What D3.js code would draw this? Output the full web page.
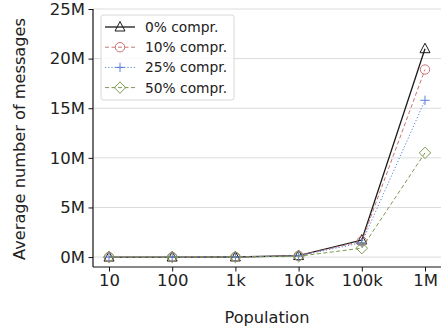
<!DOCTYPE html>
<html>
<head>
<meta charset="utf-8">
<script src="https://cdn.jsdelivr.net/npm/d3@7"></script>
<style>
  body { margin: 0; background: #fff; }
  text { font-family: "DejaVu Sans", sans-serif; fill: #222; }
</style>
</head>
<body>
<div id="chart"></div>
<script>
var svgWidth = 447;
var svgHeight = 334;

var margin = { top: 9, right: 6, bottom: 67, left: 93 };
var width = svgWidth - margin.left - margin.right;
var height = svgHeight - margin.top - margin.bottom;

// data (millions of messages)
var populations = ["10", "100", "1k", "10k", "100k", "1M"];
var yTicks = [0, 5, 10, 15, 20, 25];
var seriesNames = ["0% compr.", "10% compr.", "25% compr.", "50% compr."];
var compr0 = [0.0, 0.0, 0.01, 0.15, 1.72, 21.0];
var compr10 = [0.0, 0.0, 0.01, 0.13, 1.6, 18.9];
var compr25 = [0.0, 0.0, 0.01, 0.12, 1.45, 15.8];
var compr50 = [0.0, 0.0, 0.01, 0.08, 0.9, 10.5];

var series = [
  { name: seriesNames[0], values: compr0, color: "#1a1a1a", dash: null, width: 1.3, marker: "triangle" },
  { name: seriesNames[1], values: compr10, color: "#c87474", dash: "4,2.5", width: 1, marker: "circle" },
  { name: seriesNames[2], values: compr25, color: "#5a7fd8", dash: "1.2,2", width: 1, marker: "plus" },
  { name: seriesNames[3], values: compr50, color: "#7c9a50", dash: "4,2.5", width: 1, marker: "diamond" }
];

var svg = d3.select("#chart").append("svg")
  .attr("width", svgWidth)
  .attr("height", svgHeight);

var chartGroup = svg.append("g")
  .attr("transform", `translate(${margin.left}, ${margin.top})`);

var x = d3.scalePoint()
  .domain(populations)
  .range([16, 332]);

var y = d3.scaleLinear()
  .domain([-1.0, 25])
  .range([height, 0]);

// grid lines
chartGroup.append("g")
  .selectAll("line")
  .data(yTicks)
  .enter().append("line")
  .attr("x1", 0)
  .attr("x2", width)
  .attr("y1", d => y(d))
  .attr("y2", d => y(d))
  .attr("stroke", "#dcdcdc")
  .attr("stroke-width", 1);

// axes
var leftAxis = d3.axisLeft(y).tickValues(yTicks).tickFormat(d => d + "M").tickSizeOuter(0).tickSize(4.5).tickPadding(3.5);
var bottomAxis = d3.axisBottom(x).tickSizeOuter(0).tickSize(4.5).tickPadding(3);

var yAxisG = chartGroup.append("g").call(leftAxis);
var xAxisG = chartGroup.append("g")
  .attr("transform", `translate(0, ${height})`)
  .call(bottomAxis);

[yAxisG, xAxisG].forEach(function(g) {
  g.select(".domain").attr("stroke", "#111").attr("stroke-width", 1.2);
  g.selectAll(".tick line").attr("stroke", "#111");
  g.selectAll(".tick text").attr("font-size", 16.5).attr("fill", "#222")
    .style("font-family", "DejaVu Sans, sans-serif");
});
// extend y domain line up to top tick
yAxisG.select(".domain").attr("d", `M0,${height}V${y(25)}`);
xAxisG.select(".domain").attr("d", `M0,0H${width}`);

function drawMarker(g, type, color) {
  if (type === "triangle") {
    g.append("path").attr("d", "M0,-5.5L5,4L-5,4Z")
      .attr("fill", "none").attr("stroke", color).attr("stroke-width", 1);
  } else if (type === "circle") {
    g.append("circle").attr("r", 4.7).attr("fill", "none").attr("stroke", color).attr("stroke-width", 1);
  } else if (type === "plus") {
    g.append("path").attr("d", "M-4.7,0H4.7M0,-4.7V4.7").attr("stroke", color).attr("stroke-width", 1);
  } else {
    g.append("path").attr("d", "M0,-5.7L5.7,0L0,5.7L-5.7,0Z")
      .attr("fill", "none").attr("stroke", color).attr("stroke-width", 1);
  }
}

var line = d3.line()
  .x((d, i) => x(populations[i]))
  .y(d => y(d));

series.forEach(function(s) {
  chartGroup.append("path")
    .datum(s.values)
    .attr("d", line)
    .attr("fill", "none")
    .attr("stroke", s.color)
    .attr("stroke-width", s.width)
    .attr("stroke-dasharray", s.dash);

  s.values.forEach(function(v, i) {
    var m = chartGroup.append("g")
      .attr("transform", `translate(${x(populations[i])}, ${y(v)})`);
    drawMarker(m, s.marker, s.color);
  });
});

// legend
var legend = chartGroup.append("g").attr("transform", "translate(8, 6)");
legend.append("rect")
  .attr("width", 133)
  .attr("height", 85)
  .attr("rx", 2.5)
  .attr("fill", "#fff")
  .attr("fill-opacity", 0.85)
  .attr("stroke", "#d8d8d8");

series.forEach(function(s, i) {
  var row = legend.append("g").attr("transform", `translate(0, ${12 + i * 20.2})`);
  row.append("line")
    .attr("x1", 4).attr("x2", 34)
    .attr("stroke", s.color)
    .attr("stroke-width", s.width)
    .attr("stroke-dasharray", s.dash);
  var m = row.append("g").attr("transform", "translate(19, 0)");
  drawMarker(m, s.marker, s.color);
  row.append("text")
    .attr("x", 44)
    .attr("y", 5)
    .attr("font-size", 13.8)
    .text(s.name);
});

// axis labels
svg.append("text")
  .attr("transform", "rotate(-90)")
  .attr("x", -139)
  .attr("y", 25)
  .attr("text-anchor", "middle")
  .attr("font-size", 16.2)
  .text("Average number of messages");

svg.append("text")
  .attr("x", margin.left + width / 2)
  .attr("y", 323)
  .attr("text-anchor", "middle")
  .attr("font-size", 16.2)
  .text("Population");
</script>
</body>
</html>
